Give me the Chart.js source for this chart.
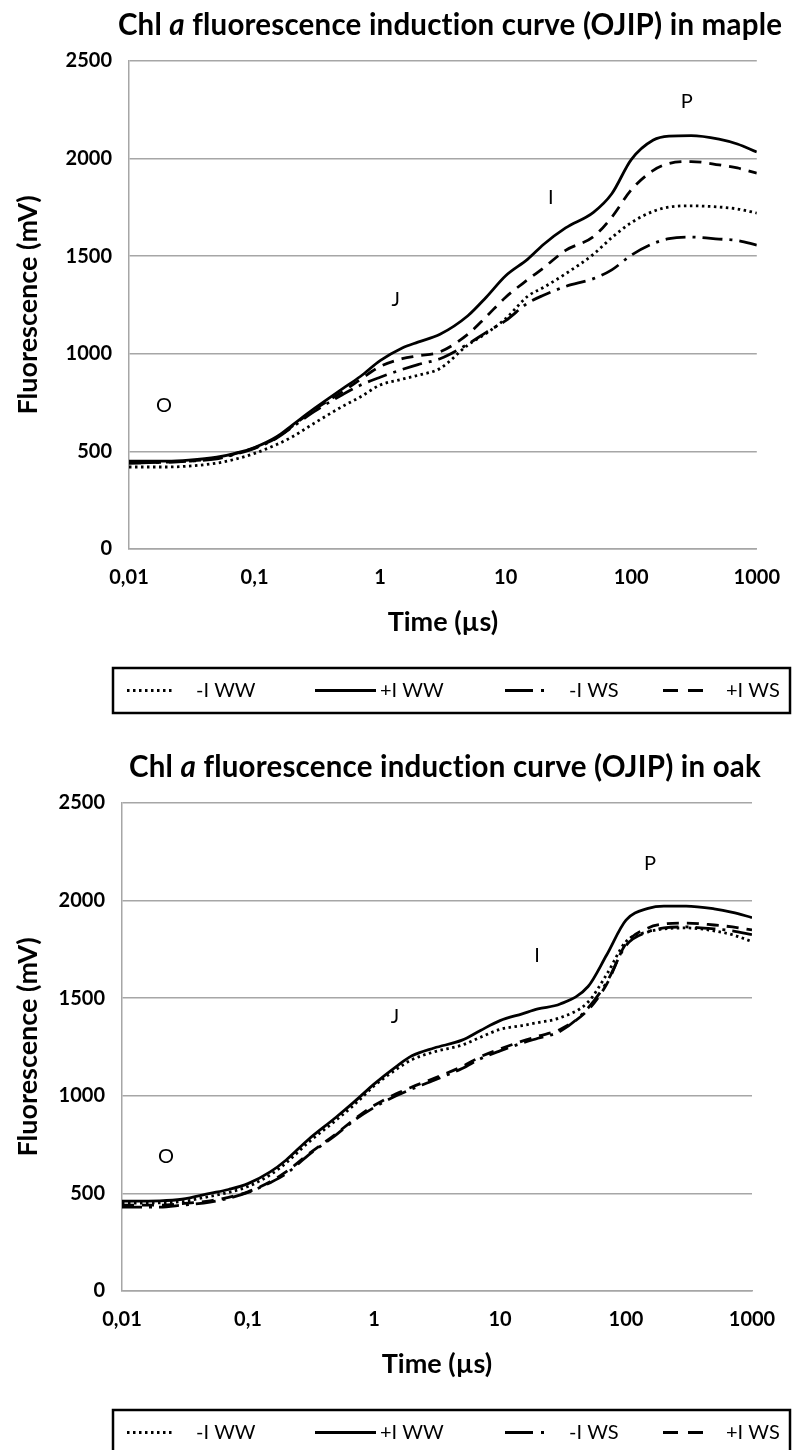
<!DOCTYPE html>
<html lang="en">
<head>
<meta charset="UTF-8">
<title>OJIP maple / oak</title>
<script src="https://cdn.jsdelivr.net/npm/chart.js@4.4.1/dist/chart.umd.min.js"></script>
<style>
  body { margin: 0; background: #fff; width: 797px; height: 1450px; overflow: hidden; position: relative; }
  .panel { position: absolute; left: 0; width: 797px; height: 742px; }
  canvas { display: block; }
</style>
</head>
<body>
<div class="panel" style="top:0"><canvas id="maple" width="797" height="742"></canvas></div>
<div class="panel" style="top:742px"><canvas id="oak" width="797" height="742"></canvas></div>

<script>
// time points (µs) the curves were read at
const times = [0.01, 0.02, 0.03, 0.05, 0.07, 0.1, 0.15, 0.2, 0.3, 0.5, 0.7, 1, 1.5, 2, 3, 5, 7, 10, 15, 20, 30, 50, 70, 100, 150, 200, 300, 500, 700, 1000];

// maple, fluorescence (mV)
const mapleMinusWW = [420, 420, 425, 440, 460, 490, 535, 575, 645, 730, 780, 840, 870, 890, 925, 1045, 1105, 1180, 1295, 1340, 1410, 1510, 1595, 1672, 1730, 1752, 1758, 1752, 1742, 1721];
const maplePlusWW  = [450, 450, 455, 470, 490, 520, 575, 635, 720, 820, 885, 965, 1030, 1060, 1100, 1195, 1290, 1400, 1485, 1560, 1645, 1725, 1820, 1995, 2095, 2115, 2118, 2100, 2075, 2034];
const mapleMinusWS = [440, 445, 450, 462, 485, 515, 568, 625, 705, 790, 840, 880, 920, 945, 975, 1050, 1110, 1170, 1260, 1300, 1345, 1385, 1430, 1505, 1565, 1590, 1598, 1588, 1580, 1557];
const maplePlusWS  = [440, 445, 450, 465, 488, 518, 570, 630, 715, 805, 870, 935, 975, 990, 1010, 1100, 1190, 1290, 1380, 1440, 1530, 1600, 1700, 1840, 1940, 1975, 1985, 1968, 1952, 1926];

// oak, fluorescence (mV)
const oakMinusWW = [450, 452, 458, 485, 505, 535, 595, 655, 760, 875, 955, 1050, 1135, 1185, 1225, 1260, 1300, 1340, 1360, 1375, 1400, 1480, 1620, 1790, 1840, 1855, 1860, 1845, 1825, 1790];
const oakPlusWW  = [460, 462, 470, 500, 520, 550, 610, 670, 775, 890, 970, 1060, 1150, 1205, 1245, 1285, 1335, 1385, 1420, 1445, 1470, 1560, 1720, 1900, 1960, 1972, 1972, 1958, 1940, 1913];
const oakMinusWS = [430, 430, 440, 455, 475, 505, 555, 600, 695, 800, 875, 940, 1000, 1035, 1080, 1140, 1190, 1230, 1270, 1295, 1330, 1450, 1580, 1770, 1840, 1860, 1865, 1855, 1845, 1825];
const oakPlusWS  = [440, 440, 448, 462, 480, 508, 560, 610, 700, 805, 880, 950, 1010, 1045, 1090, 1150, 1200, 1240, 1280, 1305, 1340, 1440, 1570, 1780, 1860, 1880, 1885, 1875, 1865, 1850];

const seriesLabels = ['-I WW', '+I WW', '-I WS', '+I WS'];
const tickValues = [0.01, 0.1, 1, 10, 100, 1000];
const tickLabels = ['0,01', '0,1', '1', '10', '100', '1000'];

// O, J, I, P phase markers (time, fluorescence)
const phaseNames = ['O', 'J', 'I', 'P'];
const maplePhaseT = [0.019, 1.33, 22.9, 277];
const maplePhaseF = [733, 1276, 1803, 2290];
const oakPhaseT = [0.0223, 1.47, 19.7, 155];
const oakPhaseF = [691, 1407, 1716, 2191];

const FONT = 'Lato, "Open Sans", sans-serif';
const dashes = [[2.5, 3.5], [], [20, 7, 3, 7], [12, 8]];
const legendDashes = [[2.5, 3.5], [], [28, 8, 3, 20], [15, 10]];

// title with the italic "a"
const titlePlugin = {
  id: 'ojipTitle',
  afterDraw(chart, args, opts) {
    const ctx = chart.ctx;
    const parts = [
      ['Chl ', 'bold'],
      ['a', 'italic bold'],
      [' fluorescence induction curve (OJIP) in ' + opts.species, 'bold']
    ];
    ctx.save();
    ctx.fillStyle = '#000';
    ctx.textBaseline = 'middle';
    ctx.letterSpacing = '0.2px'; // no "ti" ligature
    let w = 0;
    parts.forEach(p => { ctx.font = p[1] + ' 29.5px ' + FONT; w += ctx.measureText(p[0]).width; });
    let x = opts.cx - w / 2;
    parts.forEach(p => {
      ctx.font = p[1] + ' 29.5px ' + FONT;
      ctx.fillText(p[0], x, opts.cy);
      x += ctx.measureText(p[0]).width;
    });
    ctx.restore();
  }
};

// O J I P letters
const phasePlugin = {
  id: 'phases',
  afterDatasetsDraw(chart, args, opts) {
    const ctx = chart.ctx, xs = chart.scales.x, ys = chart.scales.y;
    ctx.save();
    ctx.fillStyle = '#000';
    ctx.font = '20px ' + FONT;
    ctx.textAlign = 'center';
    ctx.textBaseline = 'middle';
    phaseNames.forEach((n, i) => {
      ctx.fillText(n, xs.getPixelForValue(opts.t[i]), ys.getPixelForValue(opts.f[i]));
    });
    ctx.restore();
  }
};

// boxed legend under the axis title
const boxLegend = {
  id: 'boxLegend',
  afterDraw(chart) {
    const ctx = chart.ctx;
    const top = chart.chartArea.bottom + 119;
    const h = 45, cy = top + h / 2;
    const slots = [[127, 175, 196], [315, 376, 380], [505, 551, 569], [663, 704, 726]];
    ctx.save();
    ctx.strokeStyle = '#000';
    ctx.lineWidth = 2.5;
    ctx.strokeRect(113, top, 677, h);
    chart.data.datasets.forEach((ds, i) => {
      const s = slots[i];
      ctx.beginPath();
      ctx.setLineDash(legendDashes[i]);
      ctx.lineWidth = 3;
      ctx.moveTo(s[0], cy);
      ctx.lineTo(s[1], cy);
      ctx.stroke();
      ctx.setLineDash([]);
      ctx.fillStyle = '#000';
      ctx.font = '20px ' + FONT;
      ctx.textBaseline = 'middle';
      ctx.fillText(ds.label, s[2], cy);
    });
    ctx.restore();
  }
};

function makeChart(id, species, series, phaseT, phaseF, axisLeft, axisRight, titleX) {
  return new Chart(document.getElementById(id), {
    type: 'line',
    data: {
      datasets: series.map((s, i) => ({
        label: seriesLabels[i],
        data: times.map((t, j) => ({ x: t, y: s[j] })),
        borderColor: '#000',
        borderWidth: 2.8,
        borderDash: dashes[i],
        pointRadius: 0,
        cubicInterpolationMode: 'monotone',
        fill: false
      }))
    },
    options: {
      responsive: false,
      animation: false,
      layout: { padding: { top: 61, left: 0, right: 797 - axisRight, bottom: 98 } },
      plugins: {
        legend: { display: false },
        tooltip: { enabled: false },
        ojipTitle: { species: species, cx: titleX, cy: 25 },
        phases: { t: phaseT, f: phaseF }
      },
      scales: {
        x: {
          type: 'logarithmic',
          min: 0.01,
          max: 1000,
          afterBuildTicks: sc => { sc.ticks = tickValues.map(v => ({ value: v })); },
          afterFit: sc => { sc.height = 95; },
          ticks: {
            autoSkip: false,
            maxRotation: 0,
            padding: 17,
            color: '#000',
            font: { family: FONT, size: 20, weight: 'bold' },
            callback: v => tickLabels[tickValues.indexOf(v)]
          },
          grid: { color: 'transparent', drawTicks: false },
          border: { color: '#a6a6a6', width: 1.5 },
          title: {
            display: true,
            text: 'Time (µs)',
            color: '#000',
            font: { family: FONT, size: 27, weight: 'bold' },
            padding: { top: 0, bottom: 6 }
          }
        },
        y: {
          min: 0,
          max: 2500,
          afterFit: sc => { sc.width = axisLeft; },
          ticks: {
            stepSize: 500,
            padding: 17,
            color: '#000',
            font: { family: FONT, size: 20, weight: 'bold' },
            callback: v => String(v)
          },
          grid: { color: '#a6a6a6', lineWidth: 1.5, drawTicks: false },
          border: { color: '#a6a6a6', width: 1.5 },
          title: {
            display: true,
            text: 'Fluorescence (mV)',
            color: '#000',
            font: { family: FONT, size: 27, weight: 'bold' },
            padding: { top: 12, bottom: 0 }
          }
        }
      }
    },
    plugins: [titlePlugin, phasePlugin, boxLegend]
  });
}

makeChart('maple', 'maple', [mapleMinusWW, maplePlusWW, mapleMinusWS, maplePlusWS], maplePhaseT, maplePhaseF, 129, 760, 450);
makeChart('oak', 'oak', [oakMinusWW, oakPlusWW, oakMinusWS, oakPlusWS], oakPhaseT, oakPhaseF, 122, 752, 445);
</script>
</body>
</html>
